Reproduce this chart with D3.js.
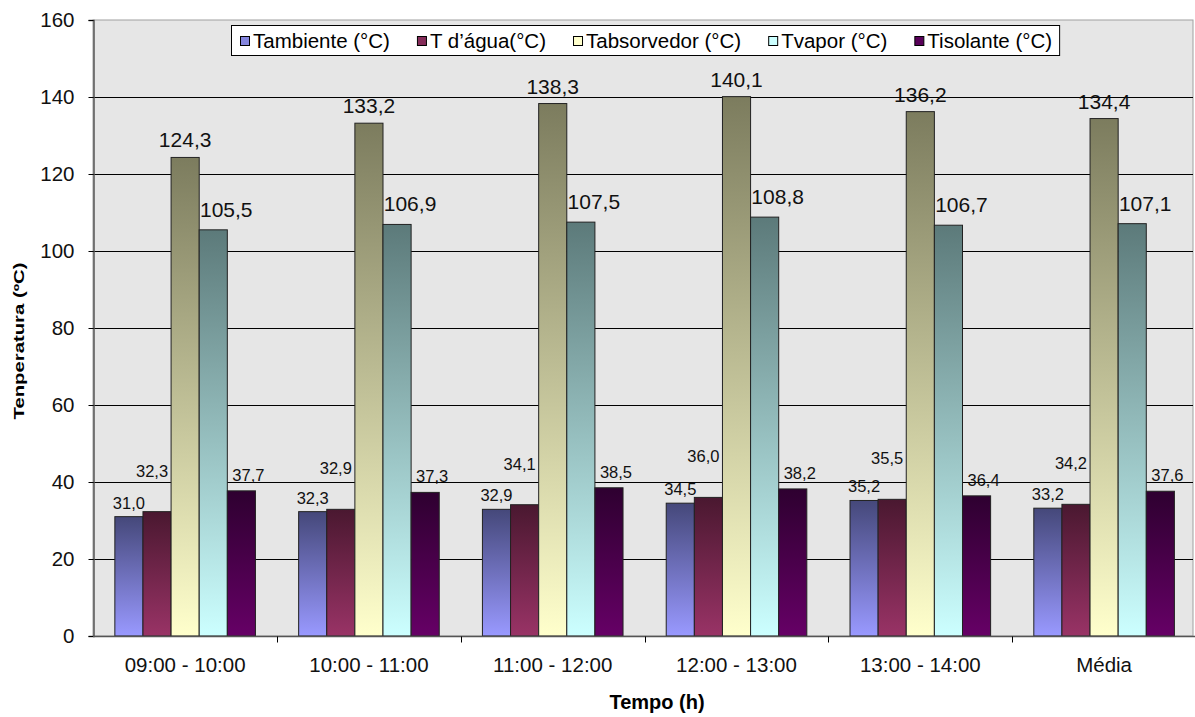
<!DOCTYPE html>
<html>
<head>
<meta charset="utf-8">
<script src="https://cdn.jsdelivr.net/npm/d3@7"></script>
<style>
  html, body { margin: 0; padding: 0; background: #fff; }
  svg { display: block; font-family: "Liberation Sans", Arial, sans-serif; }
</style>
</head>
<body>
<svg id="chart" width="1195" height="717"></svg>
<script>
// Temperatures (°C) per time interval
const categories = ["09:00 - 10:00", "10:00 - 11:00", "11:00 - 12:00", "12:00 - 13:00", "13:00 - 14:00", "Média"];
const tAmbiente   = [31.0, 32.3, 32.9, 34.5, 35.2, 33.2];
const tAgua       = [32.3, 32.9, 34.1, 36.0, 35.5, 34.2];
const tAbsorvedor = [124.3, 133.2, 138.3, 140.1, 136.2, 134.4];
const tVapor      = [105.5, 106.9, 107.5, 108.8, 106.7, 107.1];
const tIsolante   = [37.7, 37.3, 38.5, 38.2, 36.4, 37.6];
const seriesNames = ["Tambiente (°C)", "T d’água(°C)", "Tabsorvedor (°C)", "Tvapor (°C)", "Tisolante (°C)"];
const yTicks = [0, 20, 40, 60, 80, 100, 120, 140, 160];

const seriesValues = [tAmbiente, tAgua, tAbsorvedor, tVapor, tIsolante];

// Per-series look: gradient (top -> bottom) and value-label placement
const styles = [
  { top: "#45487a", bottom: "#9999ff", size: 16.5, dx: 0,  dy: -8 },
  { top: "#4a1830", bottom: "#993366", size: 16.5, dx: -5, dy: -35 },
  { top: "#7c7c5e", bottom: "#ffffcc", size: 21,   dx: 0,  dy: -10 },
  { top: "#5c7a7a", bottom: "#ccffff", size: 21,   dx: 13, dy: -13 },
  { top: "#2e0030", bottom: "#660066", size: 16.5, dx: 7,  dy: -10 }
];

const svg = d3.select("#chart");
const margin = { left: 93, right: 1195, top: 20, bottom: 636 };

const x = d3.scaleBand().domain(categories).range([93.25, 1196]).padding(0);
const groupW = x.bandwidth() * 0.765;
const xs = d3.scaleBand().domain(d3.range(5)).range([0, groupW]).padding(0);
const y = d3.scaleLinear().domain([0, 160]).range([margin.bottom, margin.top]);

const fmt = v => d3.format(".1f")(v).replace(".", ",");

// gradients
const defs = svg.append("defs");
styles.forEach((s, i) => {
  const g = defs.append("linearGradient").attr("id", "grad" + i)
    .attr("x1", 0).attr("y1", 0).attr("x2", 0).attr("y2", 1);
  g.append("stop").attr("offset", "0%").attr("stop-color", s.top);
  g.append("stop").attr("offset", "100%").attr("stop-color", s.bottom);
});

// plot area
svg.append("rect")
  .attr("x", margin.left).attr("y", margin.top)
  .attr("width", 1193 - margin.left).attr("height", margin.bottom - margin.top)
  .attr("fill", "#e6e6e6").attr("stroke", "#a0a0a0").attr("stroke-width", 1);

// gridlines
svg.append("g").selectAll("line").data(yTicks.filter(t => t > 0 && t < 160)).join("line")
  .attr("x1", margin.left).attr("x2", 1193)
  .attr("y1", d => Math.round(y(d)) + 0.5).attr("y2", d => Math.round(y(d)) + 0.5)
  .attr("stroke", "#000").attr("stroke-width", 1);

// y axis
const yAxis = svg.append("g").attr("transform", `translate(${margin.left + 0.5},0)`)
  .call(d3.axisLeft(y).tickValues(yTicks).tickSize(5).tickPadding(14).tickFormat(d3.format("d")));
yAxis.select(".domain").attr("stroke", "#555").attr("stroke-width", 1.5);
yAxis.selectAll(".tick line").attr("stroke", "#000");
yAxis.selectAll(".tick text").attr("font-size", 20.5).attr("fill", "#111")
  .attr("font-family", "Liberation Sans, Arial, sans-serif");

// bars
const groups = svg.append("g").selectAll("g").data(categories).join("g")
  .attr("transform", (d) => `translate(${x(d) + (x.bandwidth() - groupW) / 2},0)`);

groups.each(function (cat, ci) {
  const g = d3.select(this);
  seriesValues.forEach((vals, si) => {
    const v = vals[ci];
    g.append("rect")
      .attr("x", xs(si)).attr("y", y(v))
      .attr("width", xs.bandwidth()).attr("height", y(0) - y(v))
      .attr("fill", `url(#grad${si})`)
      .attr("stroke", "#222").attr("stroke-width", 1);
  });
});

// x axis
const xAxisY = margin.bottom + 0.5;
svg.append("line").attr("x1", margin.left).attr("x2", 1195)
  .attr("y1", xAxisY).attr("y2", xAxisY).attr("stroke", "#555").attr("stroke-width", 1.5);
svg.append("g").selectAll("line").data(categories.slice(1).map(c => x(c)).concat([x("Média") + x.bandwidth() - 1]))
  .join("line")
  .attr("x1", d => Math.round(d) + 0.5).attr("x2", d => Math.round(d) + 0.5)
  .attr("y1", xAxisY).attr("y2", xAxisY + 6).attr("stroke", "#000");
svg.append("g").selectAll("text").data(categories).join("text")
  .attr("x", d => x(d) + x.bandwidth() / 2)
  .attr("y", 672)
  .attr("text-anchor", "middle")
  .attr("font-size", 20.5).attr("fill", "#111")
  .text(d => d);

// value labels
groups.each(function (cat, ci) {
  const g = d3.select(this);
  seriesValues.forEach((vals, si) => {
    const v = vals[ci];
    const s = styles[si];
    g.append("text")
      .attr("x", xs(si) + xs.bandwidth() / 2 + s.dx)
      .attr("y", y(v) + s.dy)
      .attr("text-anchor", "middle")
      .attr("font-size", s.size).attr("fill", "#111")
      .text(fmt(v));
  });
});

// axis titles
svg.append("text")
  .attr("transform", "translate(24,341) rotate(-90)")
  .attr("text-anchor", "middle")
  .attr("font-size", 15).attr("font-weight", "bold").attr("fill", "#000")
  .attr("textLength", 157).attr("lengthAdjust", "spacingAndGlyphs")
  .text("Tenperatura (ºC)");

svg.append("text")
  .attr("x", 657).attr("y", 709)
  .attr("text-anchor", "middle")
  .attr("font-size", 20).attr("font-weight", "bold").attr("fill", "#000")
  .text("Tempo (h)");

// legend
const legend = svg.append("g");
const legendBox = legend.append("rect").attr("fill", "#fff").attr("stroke", "#000").attr("stroke-width", 1);
let cx = 0;
const gap = 27;
seriesNames.forEach((name, i) => {
  const it = legend.append("g").attr("transform", `translate(${cx},0)`);
  it.append("rect").attr("x", 0.5).attr("y", -4.5).attr("width", 9).attr("height", 9)
    .attr("fill", styles[i].bottom === "#ffffcc" || styles[i].bottom === "#ccffff" ? styles[i].bottom : d3.interpolateRgb(styles[i].top, styles[i].bottom)(0.75))
    .attr("stroke", "#000");
  const t = it.append("text").attr("x", 13).attr("y", 7).attr("font-size", 20.5).attr("fill", "#000").text(name);
  const w = t.node().getComputedTextLength();
  cx += 13 + w + gap;
});
const totalW = cx - gap;
const pad = 8;
const boxW = totalW + pad * 2;
const boxLeft = 646 - boxW / 2;
legend.attr("transform", `translate(${Math.round(boxLeft + pad)},41)`);
legendBox.attr("x", -pad - 0.5).attr("y", -15.5).attr("width", boxW).attr("height", 30);
</script>
</body>
</html>
